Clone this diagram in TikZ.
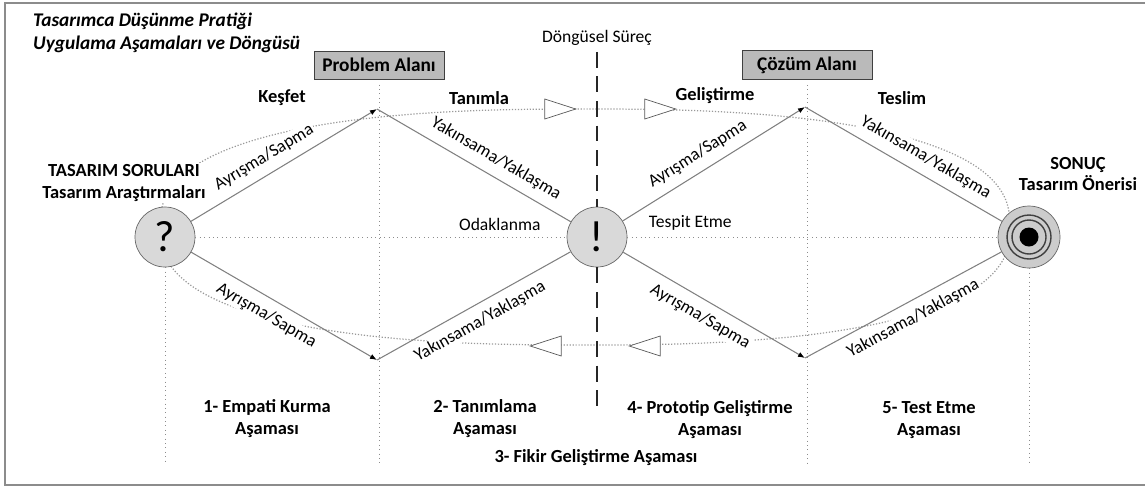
\documentclass[tikz,border=0pt]{standalone}
\usepackage{fontspec}
\setmainfont{Carlito}
\usetikzlibrary{arrows.meta}
\usetikzlibrary{shapes.geometric}

\begin{document}
\begin{tikzpicture}[x=0.02cm, y=-0.02cm,
  titletext/.style={font=\fontsize{11}{13}\selectfont\bfseries\itshape, align=left},
  boldtext/.style={font=\fontsize{10.5}{12.5}\selectfont\bfseries, align=center},
  thintext/.style={font=\fontsize{10}{12}\selectfont},
  slopetext/.style={font=\fontsize{10}{11}\selectfont, sloped, fill=white, inner sep=1pt},
  areabox/.style={draw=black!75, fill=black!27, minimum width=2.6cm, minimum height=0.56cm, font=\fontsize{11}{12}\selectfont\bfseries},
  stagecircle/.style={circle, draw=black!60, fill=black!15, minimum size=1.2cm, inner sep=0pt, font=\fontsize{25}{25}\selectfont},
  route/.style={draw=black!50, line width=0.6pt},
  tip/.style={-{Latex[color=black, length=4pt, width=3pt]}},
  guide/.style={draw=black!45, dotted, line width=0.5pt},
  loopline/.style={draw=black!40, densely dotted, line width=0.7pt},
  cutline/.style={draw=black!85, line width=1.6pt, dash pattern=on 9pt off 5pt},
  flowmark/.style={isosceles triangle, isosceles triangle stretches, draw=black!65, fill=white, minimum width=0.4cm, minimum height=0.62cm, inner sep=0pt}
]
  \useasboundingbox (0,0) rectangle (1145,488);
  \draw[draw=black!45, line width=1.4pt] (5,3) rectangle (1152,485);

  % the loop round both areas
  \draw[loopline] plot[domain=0.5:360.5, samples=121, smooth, variable=\t]
    ({585+425*sign(cos(\t))*pow(abs(cos(\t)),0.8)}, {227+118*sign(sin(\t))*pow(abs(sin(\t)),0.8)});

  \node[titletext, anchor=west] (title) at (27,33) {Tasarımca Düşünme Pratiği\\Uygulama Aşamaları ve Döngüsü};

  \node[areabox] (pa) at (379,65) {Problem Alanı};
  \node[areabox] (cz) at (807,65) {Çözüm Alanı};
  \node[thintext] (dsurec) at (597,38) {Döngüsel Süreç};

  \node[stagecircle] (q) at (165,237) {?};
  \node[stagecircle] (ex) at (597,237) {!};
  \node[stagecircle, minimum size=1.24cm, fill=black!20] (res) at (1029,237) {};
  \node[circle, draw=black!75, line width=0.8pt, minimum size=0.88cm, inner sep=0pt] (resring) at (res) {};
  \node[circle, draw=black!75, line width=0.8pt, minimum size=0.68cm, inner sep=0pt] (resinner) at (res) {};
  \node[circle, fill=black, minimum size=0.38cm, inner sep=0pt] (resdot) at (res) {};

  \node[boldtext, fill=white, inner sep=1pt] (questions) at (124,183) {TASARIM SORULARI\\Tasarım Araştırmaları};
  \node[boldtext, fill=white, inner sep=1pt] (result) at (1078,174) {SONUÇ\\Tasarım Önerisi};

  \node[boldtext] (kesfet) at (282,98) {Keşfet};
  \node[boldtext] (tanimla) at (479,98) {Tanımla};
  \node[boldtext] (gelistir) at (715,96) {Geliştirme};
  \node[boldtext] (teslim) at (902,98) {Teslim};

  \node[flowmark] (fl1) at (552,109) {};
  \node[flowmark] (fl2) at (652,109) {};
  \node[flowmark, shape border rotate=180] (fl3) at (554,346) {};
  \node[flowmark, shape border rotate=180] (fl4) at (653,346) {};

  \coordinate (tl) at (377,109);
  \coordinate (bl) at (377,360);
  \coordinate (tr) at (805,107);
  \coordinate (br) at (805,358);
  \coordinate (qend) at (165,463);

  % dotted guides
  \draw[guide] (q.south) -- (qend);
  \draw[guide, shorten <=3pt] (pa.south) -- (pa.south |- qend);
  \draw[guide, shorten <=3pt] (cz.south) -- (cz.south |- qend);
  \draw[guide] (res.south) -- (res.south |- qend);
  \draw[guide] (q) -- node[thintext, above, pos=0.82] {Odaklanma} (ex);
  \draw[guide] (ex) -- node[thintext, above, pos=0.17] {Tespit Etme} (res);

  \coordinate (dashend) at (597,413);
  \draw[cutline] (dsurec.south) -- (ex.north);
  \draw[cutline] (ex.south) -- (dashend);

  % problem area
  \draw[route, tip] (q) -- node[slopetext, above=4pt, pos=0.44] {Ayrışma/Sapma} (tl);
  \draw[route] (tl) -- node[slopetext, above=4pt, pos=0.57] {Yakınsama/Yaklaşma} (ex);
  \draw[route, tip] (q) -- node[slopetext, below=4pt, pos=0.45] {Ayrışma/Sapma} (bl);
  \draw[route] (bl) -- node[slopetext, below=4pt, pos=0.49] {Yakınsama/Yaklaşma} (ex);

  % solution area
  \draw[route, tip] (ex) -- node[slopetext, above=4pt, pos=0.46] {Ayrışma/Sapma} (tr);
  \draw[route] (tr) -- node[slopetext, above=4pt, pos=0.57] {Yakınsama/Yaklaşma} (res);
  \draw[route, tip] (ex) -- node[slopetext, below=4pt, pos=0.47] {Ayrışma/Sapma} (br);
  \draw[route] (br) -- node[slopetext, below=4pt, pos=0.51] {Yakınsama/Yaklaşma} (res);

  \node[boldtext] (phase1) at (267,419) {1- Empati Kurma\\Aşaması};
  \node[boldtext] (phase2) at (485,419) {2- Tanımlama\\Aşaması};
  \node[boldtext] (phase3) at (596,458) {3- Fikir Geliştirme Aşaması};
  \node[boldtext] (phase4) at (710,420) {4- Prototip Geliştirme\\Aşaması};
  \node[boldtext] (phase5) at (929,420) {5- Test Etme\\Aşaması};
\end{tikzpicture}
\end{document}
